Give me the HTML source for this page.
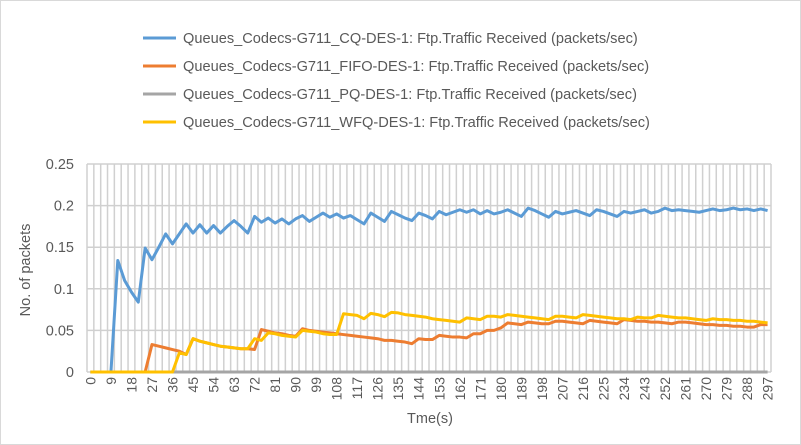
<!DOCTYPE html>
<html><head><meta charset="utf-8"><style>
html,body{margin:0;padding:0;background:#fff;}
svg{display:block;font-family:"Liberation Sans",sans-serif;}
</style></head><body>
<svg id="chart" width="801" height="445" viewBox="0 0 801 445" xmlns="http://www.w3.org/2000/svg">
<rect x="0.5" y="0.5" width="800" height="444" fill="#fff" stroke="#d9d9d9"/>
<g id="grid"></g>
<g id="yaxis"></g>
<g id="xaxis"></g>
<g id="series"></g>
<g id="legend"></g>
<text x="30" y="270" transform="rotate(-90 30 270)" text-anchor="middle" font-size="14.5" fill="#595959">No. of packets</text>
<text x="430" y="423" text-anchor="middle" font-size="14.5" fill="#595959">Tme(s)</text>
</svg>
<script>
const categories = Array.from({length:100},(_,i)=>i*3);
const yTicks = [0,0.05,0.1,0.15,0.2,0.25];
const yTickLabels = ["0","0.05","0.1","0.15","0.2","0.25"];
const seriesNames = ["Queues_Codecs-G711_CQ-DES-1: Ftp.Traffic Received (packets/sec)","Queues_Codecs-G711_FIFO-DES-1: Ftp.Traffic Received (packets/sec)","Queues_Codecs-G711_PQ-DES-1: Ftp.Traffic Received (packets/sec)","Queues_Codecs-G711_WFQ-DES-1: Ftp.Traffic Received (packets/sec)"];
const seriesColors = ["#5B9BD5","#ED7D31","#A5A5A5","#FFC000"];
const cq = [0,0,0,0,0.134,0.11,0.096,0.084,0.149,0.135,0.15,0.166,0.154,0.166,0.178,0.167,0.177,0.167,0.176,0.167,0.175,0.182,0.175,0.167,0.187,0.18,0.185,0.179,0.184,0.178,0.184,0.188,0.181,0.186,0.191,0.186,0.19,0.185,0.188,0.183,0.178,0.191,0.186,0.181,0.193,0.189,0.185,0.182,0.191,0.188,0.184,0.193,0.189,0.192,0.195,0.192,0.195,0.19,0.194,0.19,0.192,0.195,0.191,0.187,0.197,0.194,0.19,0.186,0.193,0.19,0.192,0.194,0.191,0.188,0.195,0.193,0.19,0.187,0.193,0.191,0.193,0.195,0.191,0.193,0.197,0.194,0.195,0.194,0.193,0.192,0.194,0.196,0.194,0.195,0.197,0.195,0.196,0.194,0.196,0.194];
const fifo = [0,0,0,0,0,0,0,0,0,0.033,0.031,0.029,0.027,0.025,0.021,0.04,0.037,0.035,0.033,0.031,0.03,0.029,0.028,0.028,0.027,0.051,0.049,0.047,0.046,0.044,0.043,0.052,0.05,0.049,0.048,0.047,0.046,0.045,0.044,0.043,0.042,0.041,0.04,0.038,0.038,0.037,0.036,0.034,0.04,0.039,0.039,0.044,0.043,0.042,0.042,0.041,0.046,0.046,0.05,0.05,0.053,0.059,0.058,0.057,0.06,0.059,0.058,0.058,0.061,0.061,0.06,0.059,0.058,0.062,0.061,0.06,0.059,0.058,0.063,0.062,0.061,0.061,0.06,0.06,0.059,0.058,0.06,0.06,0.059,0.058,0.057,0.057,0.056,0.056,0.055,0.055,0.054,0.054,0.057,0.057];
const pq = Array(100).fill(0);
const wfq = [0,0,0,0,0,0,0,0,0,0,0,0,0,0.023,0.021,0.04,0.037,0.035,0.033,0.031,0.03,0.029,0.028,0.028,0.04,0.038,0.047,0.046,0.044,0.043,0.042,0.05,0.049,0.048,0.046,0.045,0.045,0.07,0.069,0.068,0.064,0.0705,0.069,0.0665,0.0717,0.071,0.069,0.068,0.067,0.066,0.064,0.063,0.062,0.061,0.06,0.065,0.064,0.063,0.067,0.067,0.066,0.069,0.068,0.067,0.066,0.065,0.064,0.063,0.067,0.067,0.066,0.065,0.069,0.068,0.067,0.066,0.065,0.064,0.064,0.063,0.066,0.065,0.065,0.068,0.067,0.066,0.065,0.065,0.064,0.063,0.062,0.064,0.063,0.063,0.062,0.062,0.061,0.061,0.06,0.059];
const allSeries = [cq,fifo,pq,wfq];

const NS="http://www.w3.org/2000/svg";
const L=87,R=771,T=164,B=372,YMAX=0.25;
const step=(R-L)/categories.length;
const xPos=i=>L+(i+0.5)*step;
const yPos=v=>B-(v/YMAX)*(B-T);
function mk(tag,attrs,parent){const e=document.createElementNS(NS,tag);for(const k in attrs)e.setAttribute(k,attrs[k]);parent.appendChild(e);return e;}
const grid=document.getElementById('grid');
for(let i=0;i<=categories.length;i++){
  const x=L+i*step;
  const ln=mk('line',{x1:x,x2:x,y1:T,y2:B,stroke:'#d0d0d0','stroke-width':1.5},grid);
  
  
}
const ya=document.getElementById('yaxis');
yTicks.forEach((v,k)=>{
  const y=yPos(v);
  const ln=mk('line',{x1:L,x2:R,y1:y,y2:y,stroke:'#d0d0d0','stroke-width':1.5},grid);
  
  
  const t=mk('text',{x:74,y:y+5,'text-anchor':'end','font-size':14.5,fill:'#595959'},ya);
  t.textContent=yTickLabels[k];
  
  
});
const xa=document.getElementById('xaxis');
categories.forEach((c,i)=>{
  if(c%9!==0)return;
  const x=xPos(i)+5;
  const t=mk('text',{x:x,y:377,'text-anchor':'end','font-size':14,fill:'#595959',transform:`rotate(-90 ${x} 377)`},xa);
  t.textContent=c;
  
  
});
const sg=document.getElementById('series');
const sNames=['series-cq','series-fifo','series-pq','series-wfq'];
allSeries.forEach((d,s)=>{
  const pts=d.map((v,i)=>xPos(i).toFixed(2)+','+yPos(v).toFixed(2)).join(' ');
  const p=mk('polyline',{points:pts,fill:'none',stroke:seriesColors[s],'stroke-width':3,'stroke-linejoin':'round'},sg);
  
  
});
const lg=document.getElementById('legend');
const ly=[38,66,94,122];
seriesNames.forEach((n,s)=>{
  const g=mk('g',{},lg);
  
  
  mk('line',{x1:143,x2:176,y1:ly[s],y2:ly[s],stroke:seriesColors[s],'stroke-width':3},g);
  const t=mk('text',{x:183,y:ly[s]+5,'font-size':14.6,fill:'#595959'},g);
  t.textContent=n;
});
</script>
</body></html>
